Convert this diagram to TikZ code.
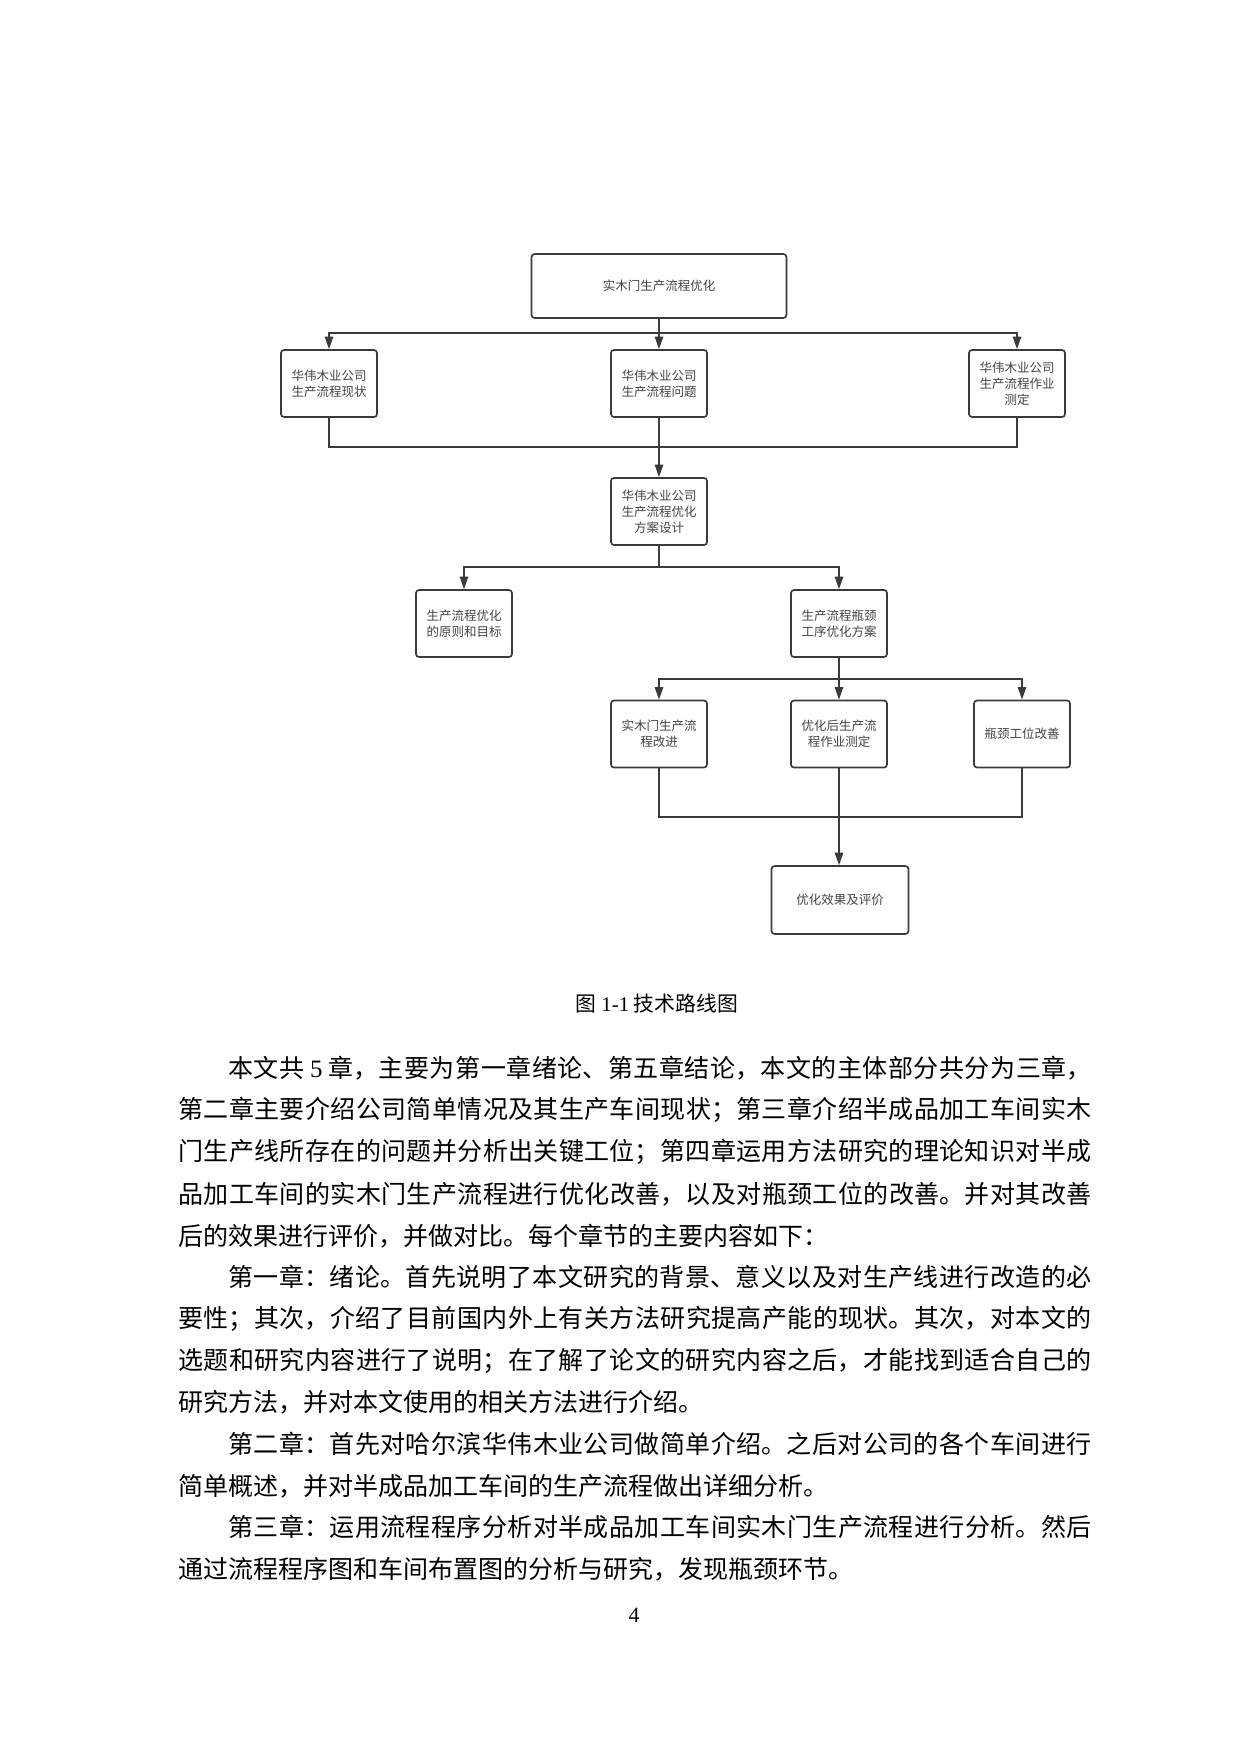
\documentclass[tikz,border=0pt]{standalone}
\usepackage{fontspec}
\setmainfont{Liberation Serif}
\newfontfamily\cjk{Noto Sans CJK SC}
\newfontfamily\lat{Liberation Serif}
\usetikzlibrary{arrows.meta}
\XeTeXlinebreaklocale "zh"
\XeTeXlinebreakskip=0pt plus 5pt
\definecolor{linec}{HTML}{3A3A3A}
\definecolor{txtc}{HTML}{444444}
\newcommand{\jline}[1]{\parbox{438.3pt}{\cjk\fontsize{12pt}{12pt}\selectfont\tolerance=10000\parfillskip=0pt\parindent=0pt\leavevmode #1}}
\newcommand{\rline}[1]{\parbox{438.3pt}{\cjk\fontsize{12pt}{12pt}\selectfont\parindent=0pt\leavevmode #1}}
\begin{document}
\begin{tikzpicture}[x=0.48pt,y=-0.48pt,
  flowbox/.style={draw=linec, line width=0.8pt, rounded corners=1.5pt, fill=white,
    inner sep=0pt, align=center, text=txtc,
    font=\cjk\fontsize{6pt}{7.8pt}\selectfont,
    minimum width=46.1pt, minimum height=32.2pt},
  conn/.style={draw=linec, line width=0.8pt},
  arr/.style={conn, -{Triangle[length=6pt,width=4pt]}},
  bodyline/.style={anchor=west, inner sep=0pt}]
\useasboundingbox[fill=white] (0,0) rectangle (1240,1754);

% nodes
\node[flowbox, minimum width=122.4pt, minimum height=30.7pt] (T) at (659,286) {实木门生产流程优化};
\node[flowbox] (A) at (329,383.5) {华伟木业公司\\生产流程现状};
\node[flowbox] (B) at (659,383.5) {华伟木业公司\\生产流程问题};
\node[flowbox] (C) at (1017,383.5) {华伟木业公司\\生产流程作业\\测定};
\node[flowbox] (D) at (659,511.5) {华伟木业公司\\生产流程优化\\方案设计};
\node[flowbox] (E) at (464,623.5) {生产流程优化\\的原则和目标};
\node[flowbox] (F) at (839,623.5) {生产流程瓶颈\\工序优化方案};
\node[flowbox] (G) at (659,734) {实木门生产流\\程改进};
\node[flowbox] (H) at (839,734) {优化后生产流\\程作业测定};
\node[flowbox] (I) at (1022,734) {瓶颈工位改善};
\node[flowbox, minimum width=65.8pt, minimum height=32.6pt] (J) at (840,900) {优化效果及评价};

% junctions
\coordinate (j1) at (659,333);
\coordinate (j2) at (659,447);
\coordinate (j3) at (659,567);
\coordinate (j4) at (839,679);
\coordinate (j5) at (839,817);

% connectors
\draw[conn] (T.south) -- (j1);
\draw[arr] (j1) -| (A.north);
\draw[arr] (j1) -- (B.north);
\draw[arr] (j1) -| (C.north);
\draw[conn] (A.south) |- (j2);
\draw[conn] (C.south) |- (j2);
\draw[arr] (B.south) -- (D.north);
\draw[conn] (D.south) -- (j3);
\draw[arr] (j3) -| (E.north);
\draw[arr] (j3) -| (F.north);
\draw[conn] (F.south) -- (j4);
\draw[arr] (j4) -| (G.north);
\draw[arr] (j4) -- (H.north);
\draw[arr] (j4) -| (I.north);
\draw[conn] (G.south) |- (j5);
\draw[conn] (I.south) |- (j5);
\draw[arr] (H.south) -- (H.south |- J.north);

% caption
\node[inner sep=0pt, font=\cjk\fontsize{10pt}{10pt}\selectfont] (cap) at (657,1004) {图 {\lat 1-1} 技术路线图};

% body text
\node[bodyline] (l1) at (178,1068) {\jline{\hspace*{24pt}本文共 {\lat 5} 章，主要为第一章绪论、第五章结论，本文的主体部分共分为三章，}};
\node[bodyline] (l2) at (178,1110) {\jline{第二章主要介绍公司简单情况及其生产车间现状；第三章介绍半成品加工车间实木}};
\node[bodyline] (l3) at (178,1152) {\jline{门生产线所存在的问题并分析出关键工位；第四章运用方法研究的理论知识对半成}};
\node[bodyline] (l4) at (178,1194) {\jline{品加工车间的实木门生产流程进行优化改善，以及对瓶颈工位的改善。并对其改善}};
\node[bodyline] (l5) at (178,1236) {\rline{后的效果进行评价，并做对比。每个章节的主要内容如下：}};
\node[bodyline] (l6) at (178,1277) {\jline{\hspace*{24pt}第一章：绪论。首先说明了本文研究的背景、意义以及对生产线进行改造的必}};
\node[bodyline] (l7) at (178,1319) {\jline{要性；其次，介绍了目前国内外上有关方法研究提高产能的现状。其次，对本文的}};
\node[bodyline] (l8) at (178,1361) {\jline{选题和研究内容进行了说明；在了解了论文的研究内容之后，才能找到适合自己的}};
\node[bodyline] (l9) at (178,1402) {\rline{研究方法，并对本文使用的相关方法进行介绍。}};
\node[bodyline] (l10) at (178,1444) {\jline{\hspace*{24pt}第二章：首先对哈尔滨华伟木业公司做简单介绍。之后对公司的各个车间进行}};
\node[bodyline] (l11) at (178,1486) {\rline{简单概述，并对半成品加工车间的生产流程做出详细分析。}};
\node[bodyline] (l12) at (178,1527) {\jline{\hspace*{24pt}第三章：运用流程程序分析对半成品加工车间实木门生产流程进行分析。然后}};
\node[bodyline] (l13) at (178,1569) {\rline{通过流程程序图和车间布置图的分析与研究，发现瓶颈环节。}};

% page number
\node[inner sep=0pt, font=\lat\fontsize{10.5pt}{10.5pt}\selectfont] (pg) at (634,1615) {4};
\end{tikzpicture}
\end{document}
